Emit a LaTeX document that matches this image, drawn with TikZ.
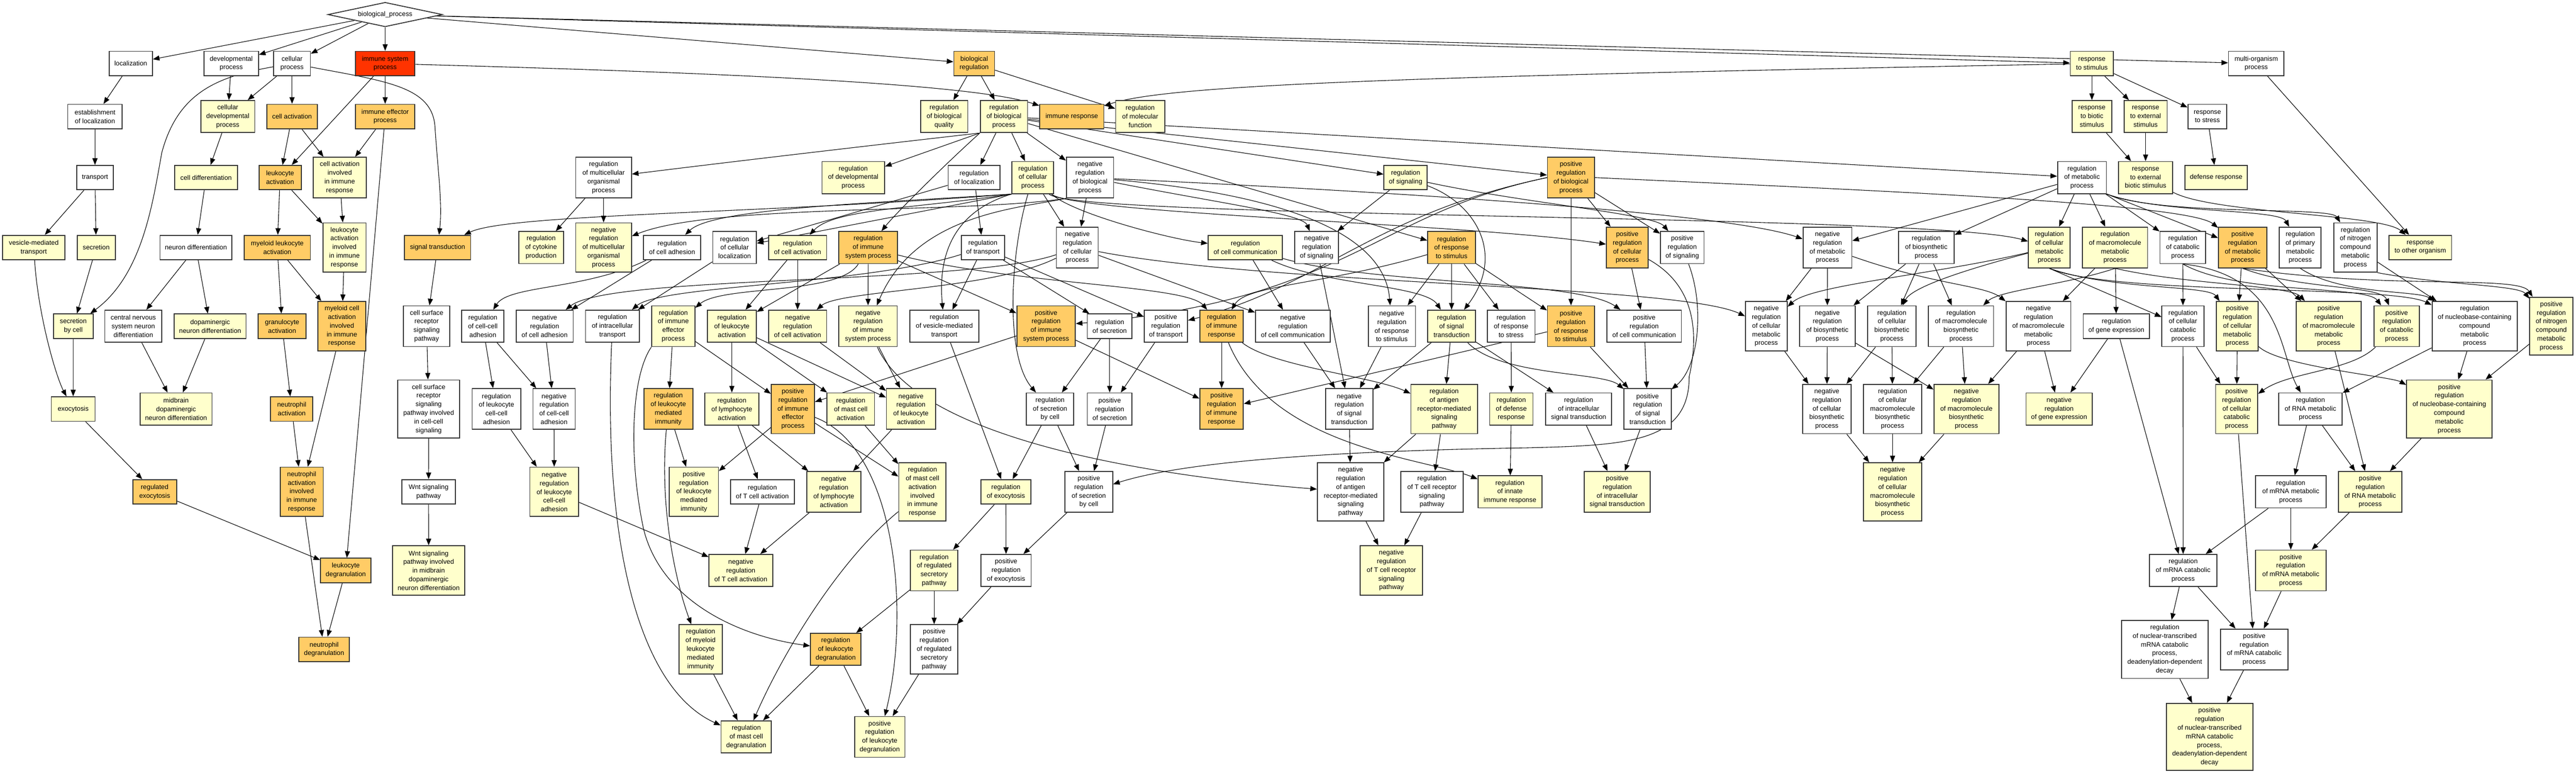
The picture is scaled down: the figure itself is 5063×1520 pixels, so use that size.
\documentclass[tikz,border=0pt]{standalone}
\usepackage{fontspec}
\setmainfont{Liberation Sans}
\usetikzlibrary{arrows.meta,shapes.geometric}
\definecolor{goY}{RGB}{255,255,204}
\definecolor{goO}{RGB}{255,204,102}
\definecolor{goR}{RGB}{255,51,0}
\newcommand{\gofont}{\fontsize{13pt}{17pt}\selectfont}
\newcommand{\gn}[6]{\node[#1, minimum width=#4pt, minimum height=#5pt] (#2) at (#3) {#6};}
\newcommand{\ed}[2]{\draw[e] (#1) -- (#2);}
\pgfdeclarelayer{back}
\pgfdeclarelayer{bg}
\pgfsetlayers{back,bg,main}
\tikzset{
 nb/.style={draw=black!80, line width=1.8pt, inner sep=0pt, align=center, font=\gofont},
 wb/.style={nb, fill=white},
 yb/.style={nb, fill=goY},
 ob/.style={nb, fill=goO},
 rb/.style={nb, fill=goR},
 e/.style={draw=black, line width=1.1pt, -{Triangle[length=13pt,width=10pt]}}
}
\begin{document}
\begin{tikzpicture}[x=1pt,y=-1pt]
\begin{pgfonlayer}{back}
\fill[white] (0,0) rectangle (5063,1520);
\end{pgfonlayer}
\useasboundingbox (0,0) rectangle (5063,1520);
% r0
\node[draw=black!80, line width=1.8pt, shape=diamond, aspect=4.7, fill=white, minimum width=225pt, minimum height=48pt, inner sep=0pt, font=\gofont] (bp) at (757,28.6) {biological\_process};
% r1
\gn{wb}{loc}{257,124.8}{85}{48}{localization}
\gn{wb}{dev}{454.5,124.8}{107}{48}{developmental\\process}
\gn{wb}{cp}{574,124.8}{72}{48}{cellular\\process}
\gn{rb}{isp}{757,124.8}{117}{48}{immune system\\process}
\gn{ob}{breg}{1914.7,124.8}{80}{48}{biological\\regulation}
\gn{yb}{rts}{4111.5,124.8}{85}{48}{response\\to stimulus}
\gn{wb}{mop}{4434.5,124.8}{109}{48}{multi-organism\\process}
% r2
\gn{wb}{eloc}{186.7,229}{107}{48}{establishment\\of localization}
\gn{yb}{cdp}{447.7,229}{106}{63}{cellular\\developmental\\process}
\gn{ob}{cact}{574,229}{99}{48}{cell activation}
\gn{ob}{iep}{757,229}{117}{48}{immune effector\\process}
\gn{yb}{rbq}{1855.6,229}{93}{63}{regulation\\of biological\\quality}
\gn{yb}{rbp}{1973.2,229}{93}{63}{regulation\\of biological\\process}
\gn{ob}{ir}{2106.5,229}{126}{48}{immune response}
\gn{yb}{rmf}{2241,229}{96.5}{63}{regulation\\of molecular\\function}
\gn{yb}{rbs}{4111.5,229}{77.5}{63}{response\\to biotic\\stimulus}
\gn{yb}{res}{4217,229}{85}{63}{response\\to external\\stimulus}
\gn{wb}{rstr}{4338.5,229}{76.5}{48}{response\\to stress}
% r3
\gn{wb}{tr}{186.7,349}{72}{48}{transport}
\gn{yb}{cdiff}{405,349}{123}{48}{cell differentiation}
\gn{ob}{lact}{550.5,349}{83}{48}{leukocyte\\activation}
\gn{yb}{caiir}{667.7,349}{104}{80}{cell activation\\involved\\in immune\\response}
\gn{wb}{rmop}{1186.3,349}{109.5}{80}{regulation\\of multicellular\\organismal\\process}
\gn{yb}{rdp}{1677,349}{123}{63}{regulation\\of developmental\\process}
\gn{wb}{rloc}{1914.6,349}{102}{48}{regulation\\of localization}
\gn{yb}{rcp}{2030,349}{82}{63}{regulation\\of cellular\\process}
\gn{wb}{nrbp}{2142.3,349}{93}{80}{negative\\regulation\\of biological\\process}
\gn{yb}{rsig}{2762.6,349}{85}{48}{regulation\\of signaling}
\gn{ob}{prbp}{3087.7,349}{92.7}{80}{positive\\regulation\\of biological\\process}
\gn{wb}{rmp}{4092,349}{96}{63}{regulation\\of metabolic\\process}
\gn{yb}{rebs}{4217,349}{106.6}{63}{response\\to external\\biotic stimulus}
\gn{yb}{defr}{4355.7,349}{122}{48}{defense response}
% r4
\gn{yb}{vmt}{66.4,486.4}{123}{48}{vesicle-mediated\\transport}
\gn{yb}{sec}{189,486.4}{75}{48}{secretion}
\gn{wb}{ndiff}{385,486.4}{141}{48}{neuron differentiation}
\gn{ob}{mlact}{545,486.4}{130}{48}{myeloid leukocyte\\activation}
\gn{yb}{laiir}{677,486.4}{85}{97}{leukocyte\\activation\\involved\\in immune\\response}
\gn{ob}{st}{860,486.4}{130}{48}{signal transduction}
\gn{yb}{rcytp}{1063.5,486.4}{88}{63}{regulation\\of cytokine\\production}
\gn{yb}{nrmop}{1186.3,486.4}{109.5}{97}{negative\\regulation\\of multicellular\\organismal\\process}
\gn{wb}{rcadh}{1321,486.4}{112}{48}{regulation\\of cell adhesion}
\gn{wb}{rcloc}{1443.8,486.4}{85.6}{63}{regulation\\of cellular\\localization}
\gn{yb}{rcact}{1567.6,486.4}{114}{48}{regulation\\of cell activation}
\gn{ob}{risp}{1706.4,486.4}{115.3}{63}{regulation\\of immune\\system process}
\gn{wb}{rtr}{1931.8,486.4}{85}{48}{regulation\\of transport}
\gn{wb}{nrcp}{2117.4,486.4}{82}{80}{negative\\regulation\\of cellular\\process}
\gn{yb}{rcc}{2447.7,486.4}{146}{48}{regulation\\of cell communication}
\gn{wb}{nrsig}{2587.8,486.4}{85.6}{63}{negative\\regulation\\of signaling}
\gn{ob}{rrs}{2853,486.4}{94}{63}{regulation\\of response\\to stimulus}
\gn{ob}{prcp}{3198.3,486.4}{82}{80}{positive\\regulation\\of cellular\\process}
\gn{wb}{prsig}{3306.4,486.4}{85.6}{63}{positive\\regulation\\of signaling}
\gn{wb}{nrmp}{3591.7,486.4}{96}{80}{negative\\regulation\\of metabolic\\process}
\gn{wb}{rbsp}{3786,486.4}{109.5}{63}{regulation\\of biosynthetic\\process}
\gn{yb}{rcmp}{4027.8,486.4}{82}{80}{regulation\\of cellular\\metabolic\\process}
\gn{yb}{rmmp}{4157,486.4}{128}{80}{regulation\\of macromolecule\\metabolic\\process}
\gn{wb}{rcatp}{4290.2,486.4}{90}{63}{regulation\\of catabolic\\process}
\gn{ob}{prmp}{4407.7,486.4}{95}{80}{positive\\regulation\\of metabolic\\process}
\gn{wb}{rpmp}{4521,486.4}{82}{80}{regulation\\of primary\\metabolic\\process}
\gn{wb}{rncmp}{4629.4,486.4}{84.7}{97}{regulation\\of nitrogen\\compound\\metabolic\\process}
\gn{yb}{rtoo}{4757,486.4}{122.7}{48}{response\\to other organism}
% r5
\gn{yb}{sbc}{144,641}{78}{48}{secretion\\by cell}
\gn{wb}{cnsnd}{262,641}{112}{63}{central nervous\\system neuron\\differentiation}
\gn{yb}{dnd}{413,641}{141}{48}{dopaminergic\\neuron differentiation}
\gn{ob}{gact}{554.5,641}{94}{48}{granulocyte\\activation}
\gn{ob}{mcaiir}{672,641}{94}{97}{myeloid cell\\activation\\involved\\in immune\\response}
\gn{wb}{csrsp}{838.5,641}{91}{80}{cell surface\\receptor\\signaling\\pathway}
\gn{wb}{rccadh}{949,641}{83}{63}{regulation\\of cell-cell\\adhesion}
\gn{wb}{nrcadh}{1070.4,641}{112}{63}{negative\\regulation\\of cell adhesion}
\gn{wb}{rit}{1203.7,641}{106}{63}{regulation\\of intracellular\\transport}
\gn{yb}{riep}{1323.4,641}{84.6}{80}{regulation\\of immune\\effector\\process}
\gn{yb}{rla}{1438.4,641}{96.5}{63}{regulation\\of leukocyte\\activation}
\gn{yb}{nrcact}{1567.6,641}{114}{63}{negative\\regulation\\of cell activation}
\gn{yb}{nrisp}{1706,641}{115}{80}{negative\\regulation\\of immune\\system process}
\gn{wb}{rvmt}{1856,641}{136}{63}{regulation\\of vesicle-mediated\\transport}
\gn{ob}{prisp}{2056,641}{115}{80}{positive\\regulation\\of immune\\system process}
\gn{wb}{rsec}{2181,641}{88}{48}{regulation\\of secretion}
\gn{wb}{prtr}{2291.4,641}{85.6}{63}{positive\\regulation\\of transport}
\gn{ob}{rir}{2401,641}{85}{63}{regulation\\of immune\\response}
\gn{wb}{nrcc}{2541,641}{147}{63}{negative\\regulation\\of cell communication}
\gn{wb}{nrrs}{2735.6,641}{93}{80}{negative\\regulation\\of response\\to stimulus}
\gn{yb}{rst}{2853,641}{94}{63}{regulation\\of signal\\transduction}
\gn{wb}{rrstr}{2970,641}{94}{63}{regulation\\of response\\to stress}
\gn{ob}{prrs}{3087.7,641}{92.7}{80}{positive\\regulation\\of response\\to stimulus}
\gn{wb}{prcc}{3231.6,641}{146}{63}{positive\\regulation\\of cell communication}
\gn{wb}{nrcmp}{3471.6,641}{82}{97}{negative\\regulation\\of cellular\\metabolic\\process}
\gn{wb}{nrbsp}{3591.5,641}{109.5}{80}{negative\\regulation\\of biosynthetic\\process}
\gn{wb}{rcbp}{3718.3,641}{95.4}{80}{regulation\\of cellular\\biosynthetic\\process}
\gn{wb}{rmbp}{3854.3,641}{128}{80}{regulation\\of macromolecule\\biosynthetic\\process}
\gn{wb}{nrmmp}{4006.4,641}{127.4}{97}{negative\\regulation\\of macromolecule\\metabolic\\process}
\gn{wb}{rge}{4159.6,641}{130.4}{48}{regulation\\of gene expression}
\gn{wb}{rccp}{4290.5,641}{83}{80}{regulation\\of cellular\\catabolic\\process}
\gn{yb}{prcmp}{4397.3,641}{82}{97}{positive\\regulation\\of cellular\\metabolic\\process}
\gn{yb}{prmmp}{4577,641}{127.7}{97}{positive\\regulation\\of macromolecule\\metabolic\\process}
\gn{yb}{prcatp}{4710.5,641}{89.7}{80}{positive\\regulation\\of catabolic\\process}
\gn{wb}{rnccmp}{4863.7,641}{167.3}{97}{regulation\\of nucleobase-containing\\compound\\metabolic\\process}
\gn{yb}{prncmp}{5014.5,641}{84.7}{114}{positive\\regulation\\of nitrogen\\compound\\metabolic\\process}
% r6
\gn{yb}{exo}{143.8,803.7}{86}{48}{exocytosis}
\gn{yb}{mdnd}{346,803.7}{141.5}{63}{midbrain\\dopaminergic\\neuron differentiation}
\gn{ob}{nact}{573.4,803.7}{83}{48}{neutrophil\\activation}
\gn{wb}{csrspccs}{842.5,803.7}{122}{114}{cell surface\\receptor\\signaling\\pathway involved\\in cell-cell\\signaling}
\gn{wb}{rlccadh}{975.8,803.7}{95.6}{80}{regulation\\of leukocyte\\cell-cell\\adhesion}
\gn{wb}{nrccadh}{1089,803.7}{83}{80}{negative\\regulation\\of cell-cell\\adhesion}
\gn{ob}{rlmi}{1313.5,803.7}{96.3}{80}{regulation\\of leukocyte\\mediated\\immunity}
\gn{yb}{rlyma}{1438.4,803.7}{106.5}{63}{regulation\\of lymphocyte\\activation}
\gn{ob}{priep}{1558.4,803.7}{85}{97}{positive\\regulation\\of immune\\effector\\process}
\gn{yb}{rmca}{1672,803.7}{93.7}{63}{regulation\\of mast cell\\activation}
\gn{yb}{nrla}{1790.4,803.7}{96.3}{80}{negative\\regulation\\of leukocyte\\activation}
\gn{wb}{rsbc}{2063.8,803.7}{93}{63}{regulation\\of secretion\\by cell}
\gn{wb}{prsec}{2181,803.7}{88}{63}{positive\\regulation\\of secretion}
\gn{ob}{prir}{2401,803.7}{85.5}{80}{positive\\regulation\\of immune\\response}
\gn{wb}{nrst}{2651.8,803.7}{93}{80}{negative\\regulation\\of signal\\transduction}
\gn{yb}{rarmsp}{2838.4,803.7}{130.7}{97}{regulation\\of antigen\\receptor-mediated\\signaling\\pathway}
\gn{yb}{rdr}{2970.4,803.7}{85}{63}{regulation\\of defense\\response}
\gn{wb}{rist}{3102.7,803.7}{130}{63}{regulation\\of intracellular\\signal transduction}
\gn{wb}{prst}{3238.2,803.7}{92.5}{80}{positive\\regulation\\of signal\\transduction}
\gn{wb}{nrcbp}{3590.5,803.7}{95.7}{97}{negative\\regulation\\of cellular\\biosynthetic\\process}
\gn{wb}{rcmbp}{3719.7,803.7}{114.2}{97}{regulation\\of cellular\\macromolecule\\biosynthetic\\process}
\gn{yb}{nrmbp}{3864.8,803.7}{127.6}{97}{negative\\regulation\\of macromolecule\\biosynthetic\\process}
\gn{yb}{nrge}{4047,803.7}{130}{63}{negative\\regulation\\of gene expression}
\gn{yb}{prccp}{4396,803.7}{82.7}{97}{positive\\regulation\\of cellular\\catabolic\\process}
\gn{wb}{rrmp}{4541,803.7}{124.8}{63}{regulation\\of RNA metabolic\\process}
\gn{yb}{prnccmp}{4814,803.7}{168}{114}{positive\\regulation\\of nucleobase-containing\\compound\\metabolic\\process}
% r7
\gn{ob}{rexo}{304,966.5}{86}{48}{regulated\\exocytosis}
\gn{ob}{naiir}{593,966.5}{85}{97}{neutrophil\\activation\\involved\\in immune\\response}
\gn{wb}{wnt}{842.4,966.5}{105}{48}{Wnt signaling\\pathway}
\gn{yb}{nrlccadh}{1089.3,966.5}{95.7}{97}{negative\\regulation\\of leukocyte\\cell-cell\\adhesion}
\gn{yb}{prlmi}{1363.8,966.5}{96.3}{97}{positive\\regulation\\of leukocyte\\mediated\\immunity}
\gn{wb}{rtca}{1498.4,966.5}{125.6}{48}{regulation\\of T cell activation}
\gn{yb}{nrlyma}{1638.8,966.5}{106.5}{80}{negative\\regulation\\of lymphocyte\\activation}
\gn{yb}{rmcaiir}{1813,966.5}{93}{114}{regulation\\of mast cell\\activation\\involved\\in immune\\response}
\gn{yb}{rexoc}{1977,966.5}{98}{48}{regulation\\of exocytosis}
\gn{wb}{prsbc}{2140,966.5}{93.7}{80}{positive\\regulation\\of secretion\\by cell}
\gn{wb}{nrarmsp}{2654.6,966.5}{130.7}{114}{negative\\regulation\\of antigen\\receptor-mediated\\signaling\\pathway}
\gn{wb}{rtcrsp}{2814.4,966.5}{122.4}{80}{regulation\\of T cell receptor\\signaling\\pathway}
\gn{yb}{riir}{2967.8,966.5}{125.6}{63}{regulation\\of innate\\immune response}
\gn{yb}{prist}{3178.5,966.5}{130}{80}{positive\\regulation\\of intracellular\\signal transduction}
\gn{yb}{nrcmbp}{3719.7,966.5}{114.2}{114}{negative\\regulation\\of cellular\\macromolecule\\biosynthetic\\process}
\gn{wb}{rmrnamp}{4502.4,966.5}{138.3}{63}{regulation\\of mRNA metabolic\\process}
\gn{yb}{prrmp}{4658.4,966.5}{124.7}{80}{positive\\regulation\\of RNA metabolic\\process}
% r8
\gn{ob}{ldeg}{679.6,1121}{99}{48}{leukocyte\\degranulation}
\gn{yb}{wntmd}{842.5,1121}{141.6}{97}{Wnt signaling\\pathway involved\\in midbrain\\dopaminergic\\neuron differentiation}
\gn{yb}{nrtca}{1456,1121}{125}{63}{negative\\regulation\\of T cell activation}
\gn{yb}{rrsp}{1836,1121}{93}{80}{regulation\\of regulated\\secretory\\pathway}
\gn{wb}{prexo}{1977.4,1121}{98.8}{63}{positive\\regulation\\of exocytosis}
\gn{yb}{nrtcrsp}{2734.7,1121}{122.4}{97}{negative\\regulation\\of T cell receptor\\signaling\\pathway}
\gn{wb}{rmrnacp}{4290.8,1121}{133}{63}{regulation\\of mRNA catabolic\\process}
\gn{yb}{prmrnamp}{4502.4,1121}{138.3}{80}{positive\\regulation\\of mRNA metabolic\\process}
% r9
\gn{ob}{ndeg}{637,1276}{99.5}{48}{neutrophil\\degranulation}
\gn{yb}{rmylmi}{1377,1276}{85}{97}{regulation\\of myeloid\\leukocyte\\mediated\\immunity}
\gn{ob}{rldeg}{1642.5,1276}{99}{63}{regulation\\of leukocyte\\degranulation}
\gn{wb}{prrsp}{1836,1276}{93}{97}{positive\\regulation\\of regulated\\secretory\\pathway}
\gn{wb}{rntmcp}{4254.6,1276}{170}{114}{regulation\\of nuclear-transcribed\\mRNA catabolic\\process,\\deadenylation-dependent\\decay}
\gn{wb}{prmrnacp}{4430.5,1276}{133}{80}{positive\\regulation\\of mRNA catabolic\\process}
% r10
\gn{yb}{rmcdeg}{1466.7,1448}{99}{63}{regulation\\of mast cell\\degranulation}
\gn{yb}{prldeg}{1729,1448}{99}{80}{positive\\regulation\\of leukocyte\\degranulation}
\gn{yb}{prntmcp}{4342.7,1448}{170}{132}{positive\\regulation\\of nuclear-transcribed\\mRNA catabolic\\process,\\deadenylation-dependent\\decay}

\begin{pgfonlayer}{bg}
% top
\ed{bp}{loc} \ed{bp}{dev} \ed{bp}{cp} \ed{bp}{isp} \ed{bp}{breg} \ed{bp}{rts} \ed{bp}{mop}
\ed{loc}{eloc} \ed{dev}{cdp} \ed{cp}{cdp} \ed{cp}{cact}
\draw[e] (cp) .. controls (430,150) and (350,180) .. (318,300) .. controls (300,400) and (280,540) .. (sbc);
\draw[e] (cp) .. controls (760,160) and (850,170) .. (855,250) .. controls (860,330) and (870,400) .. (st);
\ed{isp}{iep} \ed{isp}{lact}
\draw[e] (isp) .. controls (1300,140) and (1900,160) .. (ir);
\ed{iep}{caiir} \ed{iep}{ldeg}
\ed{cact}{lact} \ed{cact}{caiir}
\ed{eloc}{tr} \ed{cdp}{cdiff} \ed{tr}{vmt} \ed{tr}{sec} \ed{cdiff}{ndiff}
\ed{lact}{mlact} \ed{lact}{laiir} \ed{caiir}{laiir}
\ed{sec}{sbc}
\draw[e] (vmt) .. controls (75,620) and (110,740) .. (exo);
\ed{sbc}{exo}
\ed{ndiff}{cnsnd} \ed{ndiff}{dnd} \ed{cnsnd}{mdnd} \ed{dnd}{mdnd}
\ed{mlact}{gact} \ed{mlact}{mcaiir} \ed{laiir}{mcaiir}
\ed{gact}{nact} \ed{mcaiir}{naiir} \ed{nact}{naiir}
\ed{exo}{rexo} \ed{rexo}{ldeg} \ed{naiir}{ndeg} \ed{ldeg}{ndeg}
\ed{st}{csrsp} \ed{csrsp}{csrspccs} \ed{csrspccs}{wnt} \ed{wnt}{wntmd}
\ed{breg}{rbq} \ed{breg}{rbp} \ed{breg}{rmf}
\draw[e] (rts) .. controls (2800,150) and (2300,165) .. (ir);
\ed{rts}{rbs} \ed{rts}{res} \ed{rts}{rstr}
\ed{rbs}{rebs} \ed{res}{rebs} \ed{rstr}{defr}
\ed{mop}{rtoo}
\draw[e] (rebs) .. controls (4350,420) and (4680,420) .. (rtoo);
% regulation of biological process
\draw[e] (rbp.south west) .. controls (1850,270) and (1500,310) .. (rmop);
\ed{rbp.south west}{rdp}
\draw[e] (rbp.south west) .. controls (1850,330) and (1760,420) .. (risp);
\ed{rbp}{rloc} \ed{rbp}{rcp} \ed{rbp}{nrbp} \ed{rbp}{prbp} \ed{rbp}{rsig} \ed{rbp}{rmp} \ed{rbp}{rrs}
\ed{rmop}{rcytp} \ed{rmop}{nrmop}
\draw[e] (nrbp.south west) .. controls (1900,420) and (1400,400) .. (nrmop);
\draw[e] (rcp.south west) .. controls (1500,420) and (1000,420) .. (st);
\draw[e] (rcp.south west) .. controls (1700,400) and (1400,410) .. (rcadh);
\ed{rcp.south west}{rcloc}
\draw[e] (rcp.south west) .. controls (1800,410) and (1640,410) .. (rcact);
\ed{rcp}{nrcp}
\draw[e] (rcp) .. controls (2110,420) and (2300,470) .. (rcc);
\draw[e] (rcp) .. controls (2110,420) and (2900,440) .. (prcp);
\draw[e] (rcp) .. controls (2110,430) and (3800,420) .. (rcmp);
\draw[e] (rcp.south west) .. controls (1860,420) and (1845,520) .. (rvmt);
\draw[e] (rcp) .. controls (1985,500) and (1975,700) .. (rsbc);
\ed{rloc}{rcloc} \ed{rloc}{rtr}
\ed{nrbp}{nrcp}
\draw[e] (nrbp) .. controls (2400,400) and (2560,420) .. (nrsig);
\draw[e] (nrbp.south west) .. controls (2000,410) and (1800,420) .. (nrisp);
\draw[e] (nrbp) .. controls (2500,380) and (2720,450) .. (nrrs);
\draw[e] (nrbp) .. controls (2800,380) and (3400,420) .. (nrmp);
\ed{prbp}{prcp} \ed{prbp}{prrs} \ed{prbp}{prsig}
\draw[e] (prbp.west) .. controls (2700,420) and (2650,590) .. (prisp);
\draw[e] (prbp.west) .. controls (2700,420) and (2600,560) .. (prtr);
\draw[e] (prbp.east) .. controls (3700,375) and (4300,400) .. (prmp);
\ed{rsig}{nrsig}
\draw[e] (rsig) .. controls (3000,400) and (3250,420) .. (prsig);
\draw[e] (rsig) .. controls (2900,400) and (2960,500) .. (rst);
\ed{rcc}{nrcc}
\draw[e] (rcc) .. controls (2700,560) and (3100,550) .. (prcc);
\draw[e] (rcc) .. controls (2600,560) and (2800,560) .. (rst);
\ed{nrcp}{nrcc}
\draw[e] (nrcp) .. controls (1900,560) and (1200,540) .. (nrcadh);
\draw[e] (nrcp) .. controls (1950,570) and (1650,570) .. (nrcact);
\draw[e] (nrcp) .. controls (2500,560) and (3300,560) .. (nrcmp);
\ed{prcp}{prcc}
\draw[e] (prcp) .. controls (3330,560) and (3340,650) .. (3320,740) .. controls (3320,870) and (3200,875) .. (3000,880) .. controls (2700,885) and (2350,900) .. (prsbc);
\draw[e] (rrs) .. controls (2600,560) and (2450,560) .. (rir);
\ed{rrs}{nrrs} \ed{rrs}{prrs} \ed{rrs}{rst} \ed{rrs}{rrstr}
\ed{rtr}{rvmt} \ed{rtr}{rsec} \ed{rtr}{prtr}
\draw[e] (rtr) .. controls (1700,560) and (1300,560) .. (rit);
\ed{rcloc}{rit}
\draw[e] (rcadh) .. controls (1150,570) and (1000,560) .. (rccadh);
\ed{rcadh}{nrcadh}
\ed{rcact}{rla} \ed{rcact}{nrcact}
\ed{risp}{rla} \ed{risp}{nrisp} \ed{risp}{prisp}
\draw[e] (risp) .. controls (1650,580) and (1420,560) .. (riep);
\draw[e] (risp) .. controls (2000,560) and (2330,560) .. (rir);
% metabolism
\ed{rmp}{nrmp} \ed{rmp}{rbsp} \ed{rmp}{rcmp} \ed{rmp}{rmmp} \ed{rmp}{rcatp}
\ed{rmp.south east}{prmp}
\draw[e] (rmp.south east) .. controls (4250,420) and (4480,410) .. (rpmp);
\draw[e] (rmp.south east) .. controls (4250,425) and (4580,405) .. (rncmp);
\ed{rbsp}{nrbsp} \ed{rbsp}{rcbp} \ed{rbsp}{rmbp}
\ed{nrmp}{nrcmp} \ed{nrmp}{nrbsp}
\draw[e] (nrmp) .. controls (3800,560) and (3900,560) .. (nrmmp);
\draw[e] (rcmp) .. controls (3800,540) and (3560,560) .. (nrcmp);
\draw[e] (rcmp) .. controls (3900,520) and (3760,560) .. (rcbp);
\draw[e] (rcmp.south) .. controls (4150,570) and (4340,560) .. (prcmp);
\draw[e] (rcmp.south) .. controls (4150,580) and (4700,560) .. (rnccmp);
\ed{rcmp.south}{rccp}
\draw[e] (rmmp.south) .. controls (4060,560) and (3930,570) .. (rmbp);
\draw[e] (rmmp.south) .. controls (4300,560) and (4500,560) .. (prmmp);
\ed{rmmp}{nrmmp} \ed{rmmp}{rge}
\ed{rcatp}{rccp}
\draw[e] (rcatp.south) .. controls (4400,580) and (4650,560) .. (prcatp);
\draw[e] (rcatp.south) .. controls (4490,540) and (4480,700) .. (rrmp);
\ed{prmp}{prcmp} \ed{prmp}{prmmp}
\draw[e] (prmp.south) .. controls (4520,570) and (4680,560) .. (prcatp);
\draw[e] (prmp.south) .. controls (4700,570) and (4950,540) .. (prncmp);
\draw[e] (rpmp.south) .. controls (4600,580) and (4750,570) .. (rnccmp);
\ed{rncmp}{rnccmp}
\draw[e] (rncmp.south east) .. controls (4800,560) and (4950,560) .. (prncmp);
% r5 -> r6
\ed{rccadh}{rlccadh} \ed{rccadh}{nrccadh} \ed{nrcadh}{nrccadh}
\ed{rla}{rlyma} \ed{rla}{rmca} \ed{rla}{nrla}
\ed{riep}{rlmi} \ed{riep}{priep}
\draw[e] (riep.south west) .. controls (1240,740) and (1235,900) .. (1265,1040) .. controls (1300,1180) and (1450,1250) .. (rldeg);
\draw[e] (rit) .. controls (1185,1050) and (1250,1350) .. (rmcdeg);
\ed{nrcact}{nrla} \ed{nrisp}{nrla}
\draw[e] (nrisp) .. controls (1800,850) and (2200,930) .. (nrarmsp);
\ed{prisp}{priep} \ed{prisp}{prir}
\ed{rvmt}{rexoc}
\ed{rsec}{rsbc} \ed{rsec}{prsec} \ed{prtr}{prsec}
\ed{rir}{prir}
\draw[e] (rir) .. controls (2500,720) and (2700,740) .. (rarmsp);
\draw[e] (rir) .. controls (2500,880) and (2800,900) .. (riir);
\ed{prrs}{prir} \ed{prrs}{prst}
\ed{nrrs}{nrst} \ed{rst}{nrst} \ed{nrsig}{nrst} \ed{nrcc}{nrst}
\ed{rst}{rarmsp} \ed{rst}{rist}
\draw[e] (rst) .. controls (2950,740) and (3150,730) .. (prst);
\ed{rrstr}{rdr}
\ed{prcc}{prst}
\draw[e] (prsig) .. controls (3350,600) and (3340,720) .. (prst);
\ed{nrcmp}{nrcbp} \ed{nrbsp}{nrcbp} \ed{rcbp}{nrcbp}
\ed{rcbp}{rcmbp} \ed{rmbp}{rcmbp}
\ed{nrbsp}{nrmbp} \ed{rmbp}{nrmbp} \ed{nrmmp}{nrmbp}
\ed{rge}{nrge} \ed{nrmmp}{nrge}
\ed{rge}{rmrnacp} \ed{rccp}{rmrnacp}
\ed{rccp}{prccp} \ed{prcmp}{prccp}
\draw[e] (prcatp) .. controls (4620,730) and (4500,730) .. (prccp);
\ed{rnccmp}{rrmp} \ed{rnccmp}{prnccmp} \ed{prncmp}{prnccmp}
\draw[e] (prcmp) .. controls (4480,720) and (4700,740) .. (prnccmp);
\ed{prmmp}{prrmp}
% r6 -> r7
\ed{rlccadh}{nrlccadh} \ed{nrccadh}{nrlccadh}
\ed{rlmi}{prlmi}
\draw[e] (rlmi) .. controls (1295,1000) and (1330,1150) .. (rmylmi);
\ed{priep}{prlmi} \ed{priep}{rmcaiir}
\draw[e] (priep) .. controls (1760,880) and (1790,1200) .. (prldeg);
\ed{rlyma}{rtca} \ed{rlyma}{nrlyma} \ed{nrla}{nrlyma}
\ed{rmca}{rmcaiir}
\ed{rsbc}{rexoc} \ed{rsbc}{prsbc} \ed{prsec}{prsbc}
\ed{nrst}{nrarmsp} \ed{rarmsp}{nrarmsp} \ed{rarmsp}{rtcrsp}
\ed{rdr}{riir}
\ed{rist}{prist} \ed{prst}{prist}
\ed{nrcbp}{nrcmbp} \ed{rcmbp}{nrcmbp} \ed{nrmbp}{nrcmbp}
\ed{rrmp}{rmrnamp} \ed{rrmp}{prrmp} \ed{prnccmp}{prrmp}
% r7 -> r8
\ed{nrlccadh}{nrtca} \ed{rtca}{nrtca} \ed{nrlyma}{nrtca}
\draw[e] (rmcaiir) .. controls (1650,1100) and (1540,1280) .. (rmcdeg);
\ed{rexoc}{rrsp} \ed{rexoc}{prexo} \ed{prsbc}{prexo}
\ed{nrarmsp}{nrtcrsp} \ed{rtcrsp}{nrtcrsp}
\ed{rmrnamp}{rmrnacp} \ed{rmrnamp}{prmrnamp} \ed{prrmp}{prmrnamp}
% r8 -> r9
\ed{rrsp}{rldeg} \ed{rrsp}{prrsp} \ed{prexo}{prrsp}
\ed{rmrnacp}{rntmcp} \ed{rmrnacp}{prmrnacp} \ed{prmrnamp}{prmrnacp} \ed{prccp}{prmrnacp}
% r9 -> r10
\ed{rmylmi}{rmcdeg} \ed{rldeg}{rmcdeg} \ed{rldeg}{prldeg} \ed{prrsp}{prldeg}
\ed{rntmcp}{prntmcp} \ed{prmrnacp}{prntmcp}
\end{pgfonlayer}
\end{tikzpicture}
\end{document}
